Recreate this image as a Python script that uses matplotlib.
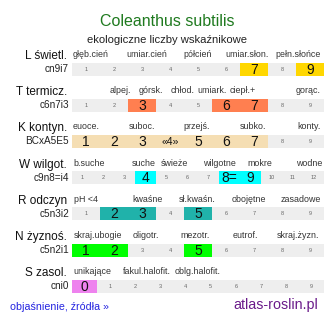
import matplotlib.pyplot as plt
from matplotlib.patches import Rectangle

plt.rcParams['font.family'] = ['Liberation Sans', 'DejaVu Sans']

title = "Coleanthus subtilis"
subtitle = "ekologiczne liczby wskaźnikowe"

row_names = ["L świetl.", "T termicz.", "K kontyn.", "W wilgot.",
             "R odczyn", "N żyznoś.", "S zasol."]
row_codes = ["cn9i7", "c6n7i3", "BCxA5E5", "c9n8=i4", "c5n3i2", "c5n2i1", "cni0"]
row_cells = [9, 9, 9, 12, 9, 9, 10]
row_start = [1, 1, 1, 1, 1, 1, 0]
row_colors = ["#ffd700", "#ff7f50", "#f5deb3", "#00ffff",
              "#20b2aa", "#00ff00", "#ee82ee"]
row_marked = [[7, 9], [3, 6, 7], [1, 2, 3, 4, 5, 6, 7], [4, 8, 9],
              [2, 3, 5], [1, 2, 5], [0]]
marked_text = {(2, 4): "«4»", (3, 8): "8="}

cat_labels = [
    ["głęb.cień", "umiar.cień", "półcień", "umiar.słon.", "pełn.słońce"],
    ["alpej.", "górsk.", "chłod.", "umiark.", "ciepł.+", "gorąc."],
    ["euoce.", "suboc.", "przejś.", "subko.", "konty."],
    ["b.suche", "suche", "świeże", "wilgotne", "mokre", "wodne"],
    ["pH <4", "kwaśne", "sł.kwaśn.", "obojętne", "zasadowe"],
    ["skraj.ubogie", "oligotr.", "mezotr.", "eutrof.", "skraj.żyzn."],
    ["unikające", "fakul.halofit.", "oblg.halofit."],
]
# label centres in px (layout)
cat_x = [
    [91, 147, 198, 247, 298],
    [120, 150.5, 183, 212, 243, 308],
    [86, 142, 197, 253, 309.5],
    [89, 144, 174.5, 219, 260, 309],
    [86, 148, 197.5, 249, 300.5],
    [98, 146, 195.5, 245.5, 298],
    [92.5, 147, 197.5],
]

W, H = 334, 322
fig = plt.figure(figsize=(W / 100, H / 100), dpi=100)
ax = fig.add_axes([0, 0, 1, 1])
ax.set_xlim(0, W)
ax.set_ylim(H, 0)
ax.axis("off")

ax.text(167, 26, title, color="#1f7a1f", fontsize=11.5, ha="center", va="baseline")
ax.text(167, 42.5, subtitle, color="#222222", fontsize=8.1, ha="center", va="baseline")

x0, x1 = 72, 324
bar_h = 13
for i, name in enumerate(row_names):
    yc = 69 + 36.2 * i
    ax.text(67, yc - 10, name, fontsize=8.5, ha="right", va="baseline", color="#111111")
    ax.text(69, yc + 3, row_codes[i], fontsize=7.2, ha="right", va="baseline", color="#222222")
    for lab, lx in zip(cat_labels[i], cat_x[i]):
        ax.text(lx, yc - 12, lab, fontsize=6.4, ha="center", va="baseline", color="#333333")
    n = row_cells[i]
    cw = (x1 - x0) / n
    ax.add_patch(Rectangle((x0, yc - bar_h / 2), x1 - x0, bar_h, color="#eeeeee", lw=0))
    for k in range(n):
        v = row_start[i] + k
        cx = x0 + k * cw
        if v in row_marked[i]:
            ax.add_patch(Rectangle((cx, yc - bar_h / 2), cw, bar_h,
                                   color=row_colors[i], lw=0))
            txt = marked_text.get((i, v), str(v))
            fs = 7.6 if txt.startswith("«") else 10
            ax.text(cx + cw / 2, yc + 0.5, txt, fontsize=fs, ha="center",
                    va="center", color="#111111")
        else:
            ax.text(cx + cw / 2, yc, str(v), fontsize=4, ha="center",
                    va="center", color="#666666")

ax.text(10, 310, "objaśnienie, źródła »", fontsize=7.7, color="#2323e0",
        ha="left", va="baseline")
ax.text(318, 309, "atlas-roslin.pl", fontsize=10.3, color="#6a1b8a",
        ha="right", va="baseline")

fig.savefig("out.png", dpi=100)
